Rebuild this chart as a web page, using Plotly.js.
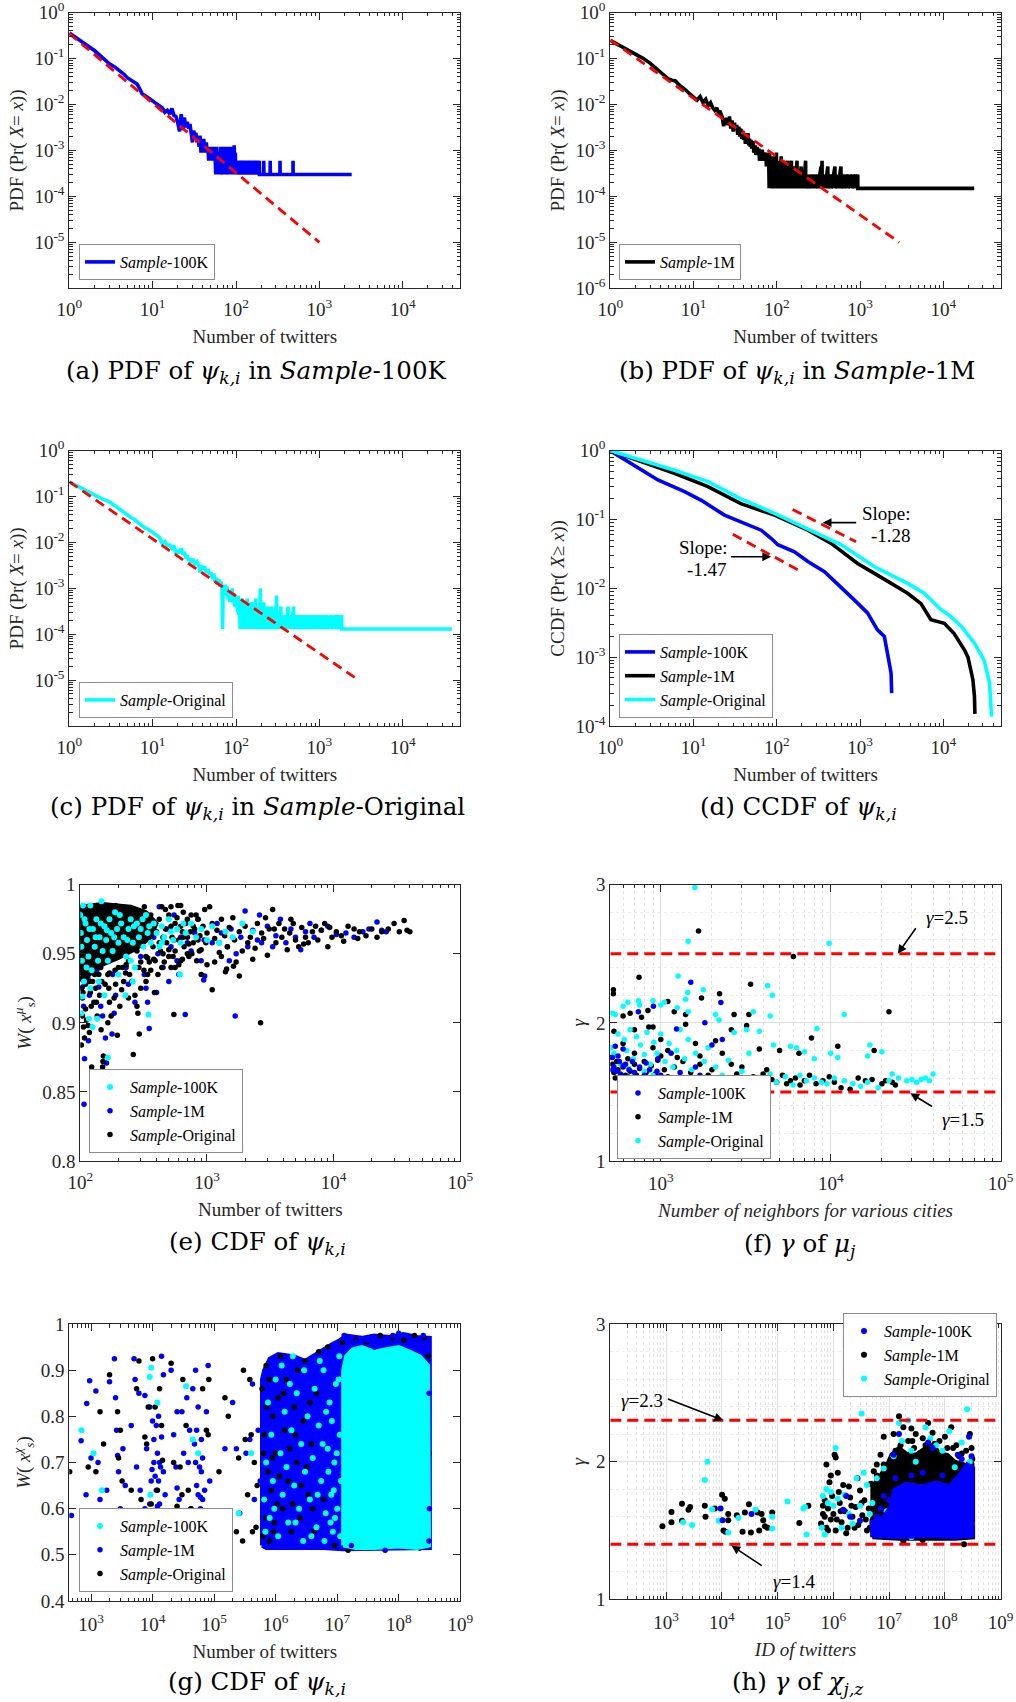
<!DOCTYPE html>
<html><head><meta charset="utf-8">
<script src="https://cdn.plot.ly/plotly-3.0.1.min.js"></script>
<style>html,body{margin:0;padding:0;background:#fff}#chart{width:1016px;height:1702px}</style>
</head><body><div id="chart"></div>
<script>
// ---------------- DATA ----------------
// (a) PDF, Sample-100K : [x, Pr(X=x)]
const a_pdf100k = [[1,0.36],[1.5,0.22],[2,0.15],[2.5,0.105],[3,0.078],[3.5,0.066],[4,0.055],[4.5,0.046],[5,0.038],[5.5,0.034],[6,0.031],[6.5,0.028],[7,0.022],[7.5,0.017],[8,0.016],[9,0.014],[10,0.012],[11,0.0105],[12,0.0095],[13,0.0085],[14,0.0068],[15,0.0075],[16,0.0062],[17,0.0082],[18,0.0058],[19,0.0055],[20,0.0040],[21,0.0026],[22,0.0062],[23,0.0028],[24,0.0052],[25,0.0032],[26,0.0042],[27,0.0030],[28,0.0038],[29,0.0020],[30,0.0015],[31,0.0027],[32,0.0021],[33,0.0024],[34,0.0015],[35,0.0021],[36,0.0012],[37,0.0021],[38,0.0009],[39,0.0015],[40,0.0012],[41,0.0018],[42,0.0009],[43,0.0012],[44,0.0015],[45,0.0009],[46,0.0012],[47,0.0006],[48,0.0012],[49,0.0009],[50,0.0006],[51,0.0012],[52,0.0009],[53,0.0006],[54,0.0012],[55,0.0006],[56,0.0009],[57,0.0003],[58,0.0012],[59,0.0006],[60,0.0003],[62,0.0009],[63,0.0003],[65,0.0012],[66,0.0003],[68,0.0006],[69,0.0012],[70,0.0003],[72,0.0009],[73,0.0003],[75,0.0012],[76,0.0003],[78,0.0006],[80,0.0012],[81,0.0003],[83,0.0009],[84,0.0003],[86,0.0012],[87,0.0006],[88,0.0003],[90,0.0012],[91,0.0003],[93,0.0006],[95,0.0013],[96,0.0003],[98,0.0009],[99,0.0003],[101,0.0006],[102,0.0003],[105,0.0006],[106,0.0003],[110,0.0006],[111,0.0003],[115,0.0006],[116,0.0003],[120,0.0006],[121,0.0003],[125,0.0006],[126,0.0003],[131,0.0006],[132,0.0003],[138,0.0006],[139,0.0003],[145,0.0006],[146,0.0003],[152,0.0006],[153,0.0003],[160,0.0006],[161,0.0003],[170,0.0006],[171,0.0003],[180,0.0006],[181,0.0003],[190,0.0006],[191,0.0003],[214,0.0003],[215,0.0006],[216,0.0003],[256,0.0003],[257,0.0006],[258,0.0003],[336,0.0003],[337,0.0006],[338,0.0003],[482,0.0003],[483,0.0006],[484,0.0003],[2440,0.0003]];
const a_fit = [[1,0.35],[1000,1e-5]];

// (b) PDF, Sample-1M
const b_pdf1m = [[1,0.25],[1.5,0.17],[2,0.13],[2.5,0.10],[3,0.08],[3.5,0.063],[4,0.05],[4.5,0.042],[5,0.036],[5.5,0.034],[6,0.033],[7,0.025],[8,0.021],[9,0.017],[10,0.014],[11,0.0125],[12,0.015],[13,0.011],[14,0.013],[15,0.0095],[16,0.011],[17,0.0085],[18,0.0075],[19,0.0085],[20,0.0065],[21,0.0068],[22,0.0055],[23,0.0034],[24,0.0050],[25,0.0045],[26,0.0036],[27,0.0055],[28,0.0030],[29,0.0045],[30,0.0026],[31,0.0040],[32,0.0028],[33,0.0036],[34,0.0022],[35,0.0033],[36,0.0020],[37,0.0030],[38,0.0018],[39,0.0027],[40,0.0017],[41,0.0024],[42,0.0014],[43,0.0021],[44,0.0015],[45,0.0024],[46,0.0013],[47,0.0018],[48,0.0012],[49,0.0017],[50,0.0011],[52,0.0016],[53,0.0009],[55,0.0013],[56,0.0008],[58,0.0012],[59,0.0009],[61,0.0011],[62,0.0006],[64,0.0009],[65,0.0006],[67,0.00105],[68,0.0006],[70,0.0009],[72,0.0006],[74,0.0009],[75,0.00045],[77,0.00075],[78,0.00045],[80,0.0006],[81,0.00015],[82,0.0009],[83,0.00015],[85,0.0006],[86,0.00015],[88,0.0006],[89,0.0003],[91,0.00075],[92,0.00015],[95,0.0006],[96,0.00015],[99,0.0009],[100,0.00015],[104,0.00045],[105,0.00015],[108,0.0006],[109,0.00015],[113,0.00075],[114,0.00015],[118,0.00045],[119,0.00015],[123,0.0006],[124,0.0003],[128,0.00045],[129,0.00015],[135,0.0006],[136,0.00015],[142,0.00045],[143,0.00015],[150,0.0006],[151,0.00015],[158,0.0003],[159,0.00015],[166,0.00045],[167,0.00015],[175,0.0006],[176,0.00015],[185,0.0003],[186,0.00015],[196,0.00045],[197,0.00015],[208,0.0003],[209,0.00015],[222,0.0006],[223,0.00015],[238,0.0003],[239,0.00015],[255,0.0003],[256,0.00015],[272,0.0003],[273,0.00015],[290,0.0003],[291,0.00015],[310,0.0003],[311,0.00015],[340,0.00045],[341,0.00015],[350,0.0006],[351,0.00015],[380,0.0003],[381,0.00015],[410,0.00045],[411,0.00015],[450,0.0003],[451,0.00015],[500,0.00045],[501,0.00015],[540,0.0003],[541,0.00015],[590,0.00045],[591,0.00015],[650,0.0003],[651,0.00015],[720,0.0003],[721,0.00015],[800,0.0003],[801,0.00015],[880,0.0003],[881,0.00015],[940,0.0003],[941,0.00015],[23500,0.00015]];
const b_fit = [[1,0.255],[2960,1e-5]];

// (c) PDF, Sample-Original
const c_pdfOrig = [[1,0.21],[1.5,0.14],[2,0.105],[2.5,0.088],[3,0.078],[3.5,0.063],[4,0.052],[4.5,0.044],[5,0.038],[5.5,0.035],[6,0.032],[7,0.025],[8,0.021],[9,0.019],[10,0.016],[11,0.0145],[12,0.0130],[13,0.0095],[14,0.0105],[15,0.0085],[16,0.0088],[17,0.0075],[18,0.0085],[19,0.0055],[20,0.0068],[21,0.0058],[22,0.0075],[23,0.0055],[24,0.0062],[25,0.0045],[26,0.0052],[27,0.0040],[28,0.0045],[29,0.0036],[30,0.0044],[32,0.0034],[34,0.0038],[36,0.0030],[37,0.0022],[38,0.0032],[40,0.0026],[42,0.0030],[44,0.0022],[46,0.0026],[48,0.0020],[50,0.0022],[52,0.0016],[54,0.0021],[56,0.0014],[58,0.0017],[60,0.0012],[62,0.0016],[64,0.0011],[66,0.0014],[68,0.0010],[69,0.00013],[70,0.0010],[72,0.0008],[74,0.0012],[76,0.0007],[78,0.0011],[80,0.0006],[82,0.0009],[84,0.0005],[86,0.0008],[88,0.0006],[90,0.0010],[92,0.0005],[94,0.0008],[96,0.0004],[98,0.0007],[100,0.0004],[102,0.0006],[104,0.0003],[106,0.0007],[108,0.00026],[110,0.0005],[112,0.00013],[114,0.0004],[116,0.00013],[118,0.0006],[120,0.00013],[123,0.0004],[124,0.00013],[127,0.0005],[128,0.00013],[131,0.0004],[132,0.00013],[136,0.0006],[137,0.00013],[141,0.0004],[142,0.00013],[146,0.0005],[147,0.00013],[152,0.0004],[153,0.00013],[158,0.0005],[159,0.00013],[165,0.0004],[166,0.00013],[172,0.0006],[173,0.00013],[180,0.0004],[181,0.00013],[190,0.00026],[191,0.00013],[196,0.0010],[197,0.00013],[205,0.0004],[206,0.00013],[215,0.0005],[216,0.00013],[226,0.00026],[227,0.00013],[238,0.0004],[239,0.00013],[250,0.00026],[251,0.00013],[264,0.0004],[265,0.00013],[280,0.00026],[281,0.00013],[296,0.0004],[297,0.00013],[306,0.0007],[307,0.00013],[325,0.00026],[326,0.00013],[345,0.0004],[346,0.00013],[370,0.00026],[371,0.00013],[395,0.00026],[396,0.00013],[420,0.0004],[421,0.00013],[455,0.00026],[456,0.00013],[490,0.0004],[491,0.00013],[530,0.00026],[531,0.00013],[580,0.00026],[581,0.00013],[630,0.00026],[631,0.00013],[690,0.00026],[691,0.00013],[760,0.00026],[761,0.00013],[840,0.00026],[841,0.00013],[930,0.00026],[931,0.00013],[1020,0.00026],[1021,0.00013],[1130,0.00026],[1131,0.00013],[1250,0.00026],[1251,0.00013],[1400,0.00026],[1401,0.00013],[1560,0.00026],[1561,0.00013],[1700,0.00026],[1701,0.00013],[1850,0.00026],[1851,0.00013],[38700,0.00013]];
const c_fit = [[1,0.21],[2950,1e-5]];

// (d) CCDF
const d_ccdf100k = [[1,1],[2.35,0.52],[3.73,0.375],[7.8,0.254],[12.4,0.19],[23.5,0.116],[37,0.093],[65,0.07],[86,0.053],[103,0.043],[163,0.034],[236,0.0245],[374,0.0175],[594,0.0105],[852,0.0068],[1230,0.0044],[1620,0.0025],[1960,0.002],[2150,0.00114],[2360,0.00059],[2400,0.0003]];
const d_ccdf1m = [[1,1],[2.35,0.69],[5.9,0.47],[14.9,0.30],[37,0.17],[94,0.116],[236,0.07],[450,0.045],[935,0.023],[1490,0.0165],[2360,0.0118],[3730,0.0085],[5400,0.006],[7100,0.0035],[10300,0.0031],[13500,0.0022],[18000,0.00127],[19800,0.001],[22700,0.00047],[23700,0.00027],[24000,0.00015]];
const d_ccdfOrig = [[1,1],[2.35,0.73],[5.9,0.52],[14.9,0.355],[37,0.2],[94,0.123],[236,0.074],[594,0.043],[935,0.03],[1490,0.0206],[2360,0.0156],[3730,0.0118],[5900,0.0085],[9400,0.0049],[12000,0.004],[16500,0.0028],[23700,0.0016],[31000,0.0009],[36000,0.00042],[37300,0.00024],[38000,0.000137]];
const d_fit128 = [[155,0.14],[895,0.0476]];
const d_fit147 = [[29.6,0.061],[205,0.017]];

// (e) W(x_s^mu) vs number of twitters
const e_orig = [[1050,0.984],[1100,0.972],[1150,0.961],[1200,0.967],[1250,0.958],[1300,0.975],[1380,0.963],[1450,0.955],[1500,0.969],[1600,0.976],[1650,0.960],[1700,0.944],[1800,0.966],[1900,0.952],[2000,0.970],[2100,0.958],[2200,0.962],[2400,0.954],[2500,0.972],[2700,0.965],[2800,0.961],[3000,0.949],[3100,0.968],[3300,0.982],[3500,0.958],[3700,0.972],[3900,0.962],[4100,0.968],[4300,0.953],[4500,0.965],[4800,0.972],[5000,0.960],[5300,0.955],[5600,0.969],[6000,0.962],[6300,0.958],[6800,0.966],[7200,0.970],[7500,0.960],[8000,0.967],[8500,0.972],[9000,0.955],[9300,0.969],[9700,0.962],[10500,0.966],[11500,0.963],[13000,0.970],[14500,0.968],[16000,0.966],[18000,0.963],[20000,0.968],[22000,0.962],[24000,0.966],[27000,0.968],[30000,0.972],[33000,0.966],[36000,0.974],[40000,0.966],[38000,0.967],[1430,0.939],[1620,0.941],[1800,0.934],[2650,0.900],[1100,0.924],[2300,0.946],[3400,0.968],[4600,0.975],[5800,0.957],[12000,0.959],[15500,0.961],[2900,0.976],[1300,0.948],[1400,0.937],
[100,0.983],[100,0.975],[101,0.962],[101,0.955],[102,0.948],[102,0.940],[103,0.932],[102,0.925],[104,0.918],[102,0.884],[105,0.968],[106,0.945],[107,0.958],[108,0.936],[112,0.978],[114,0.965],[115,0.950],[116,0.942],[118,0.930],[120,0.922],[122,0.912],[123,0.868],[125,0.984],[126,0.958],[128,0.946],[130,0.935],[132,0.925],[134,0.915],[136,0.905],[138,0.972],[140,0.962],[142,0.952],[145,0.940],[148,0.930],[150,0.868],[151,0.872],[152,0.876],[146,0.895],[118,0.893],[115,0.898],[135,0.985],[155,0.978],[158,0.965],[160,0.955],[163,0.945],[165,0.935],[168,0.925],[170,0.915],[175,0.983],[178,0.972],[180,0.958],[185,0.948],[188,0.938],[190,0.928],[196,0.891],[200,0.975],[205,0.962],[210,0.952],[215,0.940],[220,0.930],[225,0.968],[230,0.983],[235,0.955],[240,0.945],[245,0.935],[250,0.960],[175,0.905],[185,0.918],[205,0.912],[262,0.877],[165,0.900],[260,0.978],[270,0.965],[280,0.952],[285,0.907],[290,0.940],[292,0.892],[300,0.972],[310,0.960],[320,0.984],[330,0.948],[340,0.935],[350,0.968],[360,0.978],[375,0.955],[385,0.922],[390,0.945],[400,0.966],[420,0.975],[430,0.952],[440,0.940],[450,0.962],[470,0.982],[480,0.958],[500,0.948],[300,0.925],[330,0.930],[360,0.938],[255,0.930],[270,0.920],[280,0.912],[520,0.970],[548,0.906],[550,0.960],[560,0.952],[580,0.976],[600,0.942],[620,0.985],[640,0.966],[660,0.955],[680,0.972],[700,0.962],[720,0.948],[750,0.978],[780,0.958],[800,0.968],[830,0.945],[850,0.975],[880,0.963],[900,0.953],[930,0.970],[960,0.982],[980,0.958],[1000,0.965],[560,0.940],[620,0.945],[700,0.950],
[104,0.905],[106,0.897],[110,0.910],[112,0.902],[108,0.889],[128,0.915],[142,0.920],[157,0.928],[212,0.924],[228,0.936],[240,0.918],[318,0.938],[350,0.944],[410,0.935],[460,0.944],[520,0.940],[640,0.946],[760,0.950],[1150,0.944],[1250,0.951],[900,0.935],[1000,0.942],
[105,0.922],[110,0.928],[125,0.930],[140,0.935],[170,0.936],[200,0.940],[230,0.942],[300,0.944],[340,0.947],[380,0.946],[450,0.950],[500,0.953],[540,0.948],[600,0.960],[620,0.970],[650,0.962],[700,0.975],[720,0.957],[850,0.960],[780,0.970],[590,0.985],[650,0.980],[740,0.966],[820,0.978],[870,0.952],
[470,0.968],[500,0.978],[530,0.962],[560,0.972],[420,0.958],[380,0.966],[520,0.984],[440,0.984]];
const e_origDense = [[100,0.930],[100,0.984],[150,0.986],[250,0.984],[330,0.980],[400,0.972],[360,0.962],[280,0.954],[200,0.947],[140,0.941],[115,0.934]];
const e_1m = [[107,0.841],[108,0.874],[116,0.887],[158,0.889],[161,0.871],[178,0.892],[185,0.907],[350,0.896],[674,0.906],[1670,0.905],[942,0.931],[960,0.934],[400,0.922],[100,0.978],[101,0.965],[102,0.950],[103,0.938],[104,0.926],[106,0.912],[110,0.958],[112,0.945],[115,0.932],[118,0.920],[120,0.975],[125,0.965],[130,0.950],[135,0.938],[140,0.926],[145,0.912],[150,0.970],[160,0.958],[170,0.945],[180,0.935],[190,0.985],[200,0.980],[210,0.963],[220,0.950],[230,0.940],[240,0.928],[260,0.972],[280,0.958],[300,0.948],[320,0.935],[340,0.915],[360,0.975],[380,0.962],[410,0.950],[420,0.984],[450,0.940],[480,0.968],[520,0.955],[550,0.978],[580,0.945],[620,0.962],[660,0.972],[700,0.958],[750,0.952],[800,0.965],[850,0.975],[900,0.945],[950,0.960],[330,0.925],[270,0.915],[190,0.920],[150,0.905],[500,0.930],[600,0.935],[1100,0.958],[1200,0.972],[1300,0.965],[1450,0.955],[1550,0.968],[1700,0.950],[1850,0.962],[2000,0.981],[2100,0.955],[2300,0.967],[2500,0.960],[2700,0.958],[3000,0.970],[3300,0.955],[3500,0.963],[3800,0.975],[4200,0.958],[4600,0.968],[5000,0.962],[5500,0.953],[6000,0.966],[6500,0.972],[7000,0.962],[8000,0.967],[9000,0.970],[10500,0.964],[12500,0.965],[14500,0.962],[17000,0.966],[19000,0.968],[22000,0.973],[24000,0.967],[26000,0.966],[2600,0.978],[1500,0.945]];
const e_100k = [[165,0.875],[125,0.897],[136,0.903],[117,0.903],[102,0.907],[345,0.906],[227,0.920],[612,0.935],[104,0.919],[100,0.978],[101,0.965],[102,0.955],[103,0.945],[105,0.985],[107,0.930],[110,0.972],[113,0.960],[116,0.948],[120,0.985],[123,0.938],[126,0.968],[130,0.955],[134,0.975],[138,0.945],[142,0.962],[147,0.988],[150,0.952],[155,0.970],[160,0.960],[165,0.945],[170,0.975],[175,0.965],[180,0.952],[188,0.980],[195,0.968],[200,0.958],[210,0.972],[220,0.962],[230,0.948],[240,0.968],[250,0.975],[260,0.958],[270,0.940],[280,0.972],[290,0.962],[300,0.968],[315,0.955],[330,0.978],[340,0.965],[360,0.958],[380,0.972],[400,0.965],[420,0.955],[440,0.970],[460,0.962],[500,0.975],[540,0.960],[580,0.968],[620,0.958],[680,0.965],[750,0.972],[820,0.962],[900,0.968],[1000,0.960],[1100,0.970],[1250,0.958],[1400,0.966],[1600,0.962],[1900,0.972],[2300,0.966],[120,0.925],[140,0.930],[200,0.935],[250,0.945],[112,0.940],[155,0.920],[260,0.930],
[108,0.975],[118,0.968],[132,0.962],[145,0.972],[162,0.967],[185,0.962],[205,0.978],[235,0.960],[265,0.970],[310,0.975],[350,0.970],[440,0.958],[520,0.966],[650,0.972]];

// (f) gamma vs number of neighbors
const f_100k = [[1502,2.294],[2257,2.147],[905,2.12],[738,2.08],[1817,2.0],[1237,1.955],[2000,1.84],[2300,1.88],[540,1.83],[600,1.81],[560,1.76],[520,1.75],[530,1.68],[550,1.65],[580,1.63],[620,1.70],[650,1.66],[700,1.64],[750,1.68],[800,1.62],[860,1.66],[900,1.60],[950,1.65],[1000,1.62],[1100,1.60],[1200,1.58],[1300,1.64],[1700,1.62],[2000,1.59],[2400,1.58],[640,1.61],[600,1.69],[680,1.72],[760,1.60],[1150,1.78],[1600,1.68],[520,1.66],[570,1.72],[820,1.71],[960,1.74]];
const f_1m = [[1667,2.665],[6030,2.48],[745,2.33],[3375,2.28],[526,2.24],[526,2.21],[22000,2.08],[2217,2.21],[1736,2.18],[1100,2.155],[840,2.09],[660,2.07],[770,2.04],[600,2.05],[1200,2.08],[1400,2.06],[2700,2.06],[3300,2.06],[3200,1.98],[850,1.97],[1400,1.99],[700,1.95],[530,1.94],[900,1.97],[2600,1.95],[2100,1.87],[1000,1.88],[1600,1.85],[7700,1.89],[11000,1.83],[18000,1.80],[6500,1.78],[5000,1.80],[3800,1.81],[510,1.75],[520,1.70],[530,1.64],[540,1.60],[550,1.72],[560,1.66],[580,1.58],[600,1.68],[620,1.62],[640,1.74],[660,1.65],[680,1.58],[700,1.70],[720,1.62],[750,1.67],[780,1.57],[800,1.72],[820,1.64],[850,1.60],[880,1.69],[900,1.56],[930,1.63],[960,1.73],[1000,1.58],[1050,1.66],[1100,1.61],[1150,1.55],[1200,1.68],[1300,1.60],[1350,1.72],[1450,1.57],[1500,1.64],[1600,1.56],[1700,1.70],[1800,1.54],[1900,1.62],[2000,1.66],[2200,1.57],[2400,1.60],[2600,1.55],[2800,1.63],[3000,1.58],[3200,1.54],[3500,1.61],[3800,1.57],[4000,1.63],[4200,1.55],[4500,1.59],[4800,1.57],[5200,1.62],[5500,1.56],[5800,1.58],[6200,1.60],[6600,1.55],[7000,1.58],[7500,1.62],[8200,1.56],[9000,1.58],[9800,1.61],[10500,1.57],[11500,1.53],[13000,1.52],[14500,1.60],[16000,1.58],[17500,1.59],[20000,1.56],[21000,1.58],[23000,1.57],[24000,1.55],[1250,1.75],[1100,1.80],[1700,1.76],[2300,1.78],[2600,1.70],[700,1.78],[900,1.82],[600,1.85],[1000,1.76],[3000,1.68],[4200,1.66]];
const f_orig = [[1587,2.98],[1449,2.59],[9780,2.576],[1265,2.34],[4250,2.27],[4530,2.20],[1777,2.24],[1440,2.22],[1400,2.17],[1050,2.15],[1000,2.13],[900,2.16],[740,2.16],[640,2.15],[600,2.12],[520,2.07],[540,2.06],[750,2.13],[1250,2.11],[1450,2.08],[2100,2.06],[2200,2.02],[3500,2.08],[4400,2.05],[12000,2.06],[3200,1.95],[8300,1.96],[2700,1.93],[3800,1.94],[4600,1.84],[5800,1.83],[6300,1.82],[17000,1.84],[20000,1.79],[16500,1.76],[8000,1.74],[10000,1.78],[11000,1.75],[7000,1.79],[510,1.82],[530,1.78],[560,1.92],[580,1.70],[610,1.88],[630,1.80],[660,1.95],[690,1.74],[720,1.90],[760,1.84],[800,1.77],[830,1.93],[870,1.70],[910,1.86],[950,1.78],[1000,1.92],[1060,1.72],[1120,1.85],[1180,1.68],[1240,1.80],[1300,1.95],[1380,1.74],[1450,1.88],[1520,1.66],[1600,1.78],[1700,1.60],[1800,1.72],[1900,1.82],[2000,1.57],[2100,1.68],[2300,1.62],[2500,1.73],[2700,1.59],[3000,1.65],[3300,1.78],[3600,1.60],[4000,1.58],[4400,1.63],[4800,1.57],[5400,1.61],[6000,1.55],[6600,1.62],[7200,1.58],[8000,1.60],[8800,1.57],[9500,1.56],[10500,1.60],[12000,1.58],[13500,1.56],[15000,1.54],[16500,1.57],[19000,1.53],[22000,1.58],[23000,1.63],[25000,1.60],[28000,1.58],[30000,1.59],[32000,1.57],[34000,1.59],[36000,1.60],[38000,1.58],[40000,1.63],[600,1.60],[700,1.58],[900,1.62],[1100,1.57],[1300,1.55],[800,1.65],[650,1.67],[1500,1.60],[1400,1.52],[3500,1.52]];
const f_gammaLevels = [2.5, 1.5];

// (g) W(x_s^chi) vs number of twitters
const g_1m = [[480,0.585],[690,0.747],[830,0.63],[850,0.828],[950,0.877],[1000,0.71],[1200,0.855],[1300,0.70],[1400,0.62],[1600,0.585],[1800,0.64],[2000,0.875],[2000,0.59],[2400,0.925],[2500,0.84],[2600,0.77],[2700,0.715],[2800,0.68],[3000,0.60],[3300,0.73],[3600,0.65],[4000,0.59],[4500,0.78],[5000,0.925],[5200,0.88],[5500,0.69],[6000,0.85],[6300,0.64],[7000,0.56],[7500,0.60],[8000,0.73],[9000,0.82],[9500,0.66],[10000,0.79],[10500,0.70],[11000,0.59],[11500,0.78],[12000,0.72],[12500,0.66],[13000,0.61],[13500,0.57],[14000,0.93],[14000,0.755],[15000,0.89],[15000,0.68],[16000,0.63],[17000,0.58],[20000,0.90],[22000,0.76],[24000,0.69],[25000,0.81],[27000,0.62],[30000,0.81],[32000,0.72],[34000,0.57],[36000,0.84],[38000,0.70],[40000,0.77],[42000,0.60],[45000,0.86],[48000,0.74],[50000,0.90],[52000,0.65],[55000,0.82],[58000,0.69],[60000,0.60],[62000,0.75],[65000,0.71],[68000,0.59],[70000,0.64],[75000,0.81],[80000,0.91],[85000,0.66],[150000,0.73],[180000,0.57],[200000,0.83],[230000,0.73],[260000,0.59],[330000,0.72],[380000,0.75],[420000,0.87],[450000,0.62],[520000,0.77],[560000,0.66],[11000,0.67],[12000,0.605],[13000,0.70],[3500,0.555],[7500,0.845],[60000,0.625],[25000,0.645],[9000,0.61],
[10500,0.75],[11500,0.64],[12500,0.80],[13500,0.69],[12800,0.58],[50000,0.70],[55000,0.63],[62000,0.68],[58000,0.58],[65000,0.62],[52000,0.77],[9800,0.685]];
const g_1mDense = [[6e5,0.52],[6e5,0.88],[6.5e5,0.90],[8e5,0.925],[1.1e6,0.935],[2e6,0.93],[3e6,0.92],[4.5e6,0.935],[6e6,0.945],[8e6,0.955],[1.1e7,0.965],[1.4e7,0.975],[2.5e7,0.97],[4e7,0.975],[7e7,0.972],[1.2e8,0.978],[2e8,0.972],[3.2e8,0.97],[3.2e8,0.515],[1.2e7,0.512],[6e6,0.515],[1.5e6,0.515],[7e5,0.515]];
const g_1mEdge = [[1.3e7,0.975],[2e7,0.96],[3e7,0.965],[5e7,0.96],[8e7,0.975],[1e8,0.98],[1.5e8,0.965],[2.5e8,0.975],[3e8,0.95],[3.1e8,0.85],[3.15e8,0.6],[3.1e8,0.53],[6e7,0.51],[1.7e7,0.52],[2.2e8,0.955],[4e7,0.95]];
const g_orig = [[450,0.68],[900,0.69],[1100,0.57],[1200,0.68],[1400,0.81],[1600,0.74],[2000,0.89],[2300,0.58],[2700,0.81],[2800,0.71],[3000,0.77],[3200,0.66],[3500,0.58],[4500,0.64],[5500,0.86],[6000,0.92],[6500,0.62],[7500,0.755],[8000,0.74],[8500,0.82],[9500,0.61],[10000,0.925],[11000,0.82],[12000,0.64],[12500,0.57],[13000,0.86],[14000,0.78],[14500,0.705],[16000,0.575],[20000,0.915],[22000,0.70],[25000,0.605],[28000,0.69],[31000,0.88],[35000,0.78],[38000,0.64],[42000,0.60],[48000,0.575],[55000,0.575],[65000,0.86],[75000,0.77],[80000,0.76],[82000,0.88],[92000,0.59],[120000,0.68],[150000,0.84],[170000,0.80],[230000,0.55],[250000,0.71],[290000,0.53],[300000,0.90],[320000,0.75],[350000,0.63],[380000,0.88],[400000,0.76],[420000,0.55],[450000,0.70],[480000,0.56],[500000,0.65],[12000,0.56],[30000,0.63],[60000,0.59],
[6e5,0.86],[6.2e5,0.54],[6.5e5,0.76],[7e5,0.91],[7.5e5,0.68],[8e5,0.53],[8.5e5,0.64],[9e5,0.80],[9.5e5,0.57],[1e6,0.72],[1.1e6,0.84],[1.2e6,0.93],[1.3e6,0.60],[1.4e6,0.77],[1.5e6,0.88],[1.6e6,0.66],[1.8e6,0.55],[2e6,0.82],[2.2e6,0.70],[2.5e6,0.58],[2.8e6,0.79],[3e6,0.92],[3.4e6,0.63],[3.8e6,0.74],[4.2e6,0.55],[4.6e6,0.85],[5e6,0.94],[6e6,0.62],[7e6,0.95],[9e6,0.52],[1.2e7,0.96],[2e7,0.965],[3e7,0.96],[5e7,0.975],[8e7,0.97],[1.2e8,0.965],[1.8e8,0.975],[2.6e8,0.97],[3e8,0.93],[3.1e8,0.72],[2.2e8,0.515],[1.5e7,0.51],[7e5,0.58],[1.7e6,0.73],[2.3e6,0.90],[3.2e6,0.69],[1.05e6,0.61],[8.8e5,0.71],
[6.3e5,0.72],[6.8e5,0.62],[7.2e5,0.82],[7.8e5,0.88],[9.2e5,0.55],[1.15e6,0.67],[1.35e6,0.85],[1.9e6,0.61],[2.1e6,0.76],[2.6e6,0.65],[3.6e6,0.83],[4e6,0.60]];
const g_100k = [[700,0.77],[1100,0.72],[1500,0.64],[9500,0.905],[9000,0.885],[12000,0.83],[35000,0.865],[45000,0.75],[55000,0.72],[80000,0.585],[9200,0.63],[6000,0.59],[48000,0.58],[250000,0.59],[400000,0.72],
[6.5e5,0.62],[7e5,0.70],[7.5e5,0.83],[8e5,0.58],[8.5e5,0.76],[9e5,0.66],[1e6,0.88],[1.1e6,0.54],[1.2e6,0.72],[1.3e6,0.63],[1.4e6,0.81],[1.5e6,0.69],[1.6e6,0.57],[1.8e6,0.77],[1.9e6,0.93],[2e6,0.65],[2.2e6,0.85],[2.4e6,0.60],[2.6e6,0.74],[2.8e6,0.53],[3e6,0.68],[3.3e6,0.80],[3.6e6,0.62],[4e6,0.71],[4.3e6,0.86],[4.6e6,0.56],[5e6,0.78],[5.5e6,0.66],[6e6,0.90],[6.5e6,0.59],[7e6,0.73],[7.5e6,0.83],[8e6,0.63],[8.5e6,0.55],[9e6,0.70],[9.5e6,0.87],[1e7,0.60],[1.1e7,0.76],[1.15e7,0.66],[5.2e6,0.92],[6.2e6,0.53],[7.2e6,0.68],[8.2e6,0.79],[9.2e6,0.58],[1.05e7,0.88],[6.8e5,0.55],[9.5e5,0.60],[1.25e6,0.91],[2.1e6,0.57],[3.8e6,0.54],[2.9e6,0.90],[1.7e6,0.87],[4.8e6,0.63],[5.8e6,0.74],[6.6e6,0.81],[7.8e6,0.57],[8.8e6,0.64],[9.8e6,0.72],[1.12e7,0.54],[1.08e7,0.93]];
const g_100kDense = [[1.25e7,0.52],[1.25e7,0.90],[1.4e7,0.93],[1.8e7,0.945],[2.5e7,0.95],[4e7,0.94],[6e7,0.945],[1e8,0.95],[1.5e8,0.94],[2.2e8,0.93],[3e8,0.91],[3.1e8,0.52],[2e8,0.515],[1e8,0.518],[4e7,0.515],[2e7,0.515]];

// (h) gamma vs ID of twitters
const h_1m = [[860,1.53],[1250,1.634],[1250,1.56],[1930,1.695],[1930,1.57],[2520,1.65],[2700,1.67],[4950,1.68],[5100,1.60],[7500,1.66],[10100,1.76],[11300,1.73],[10700,1.50],[11600,1.49],[13000,1.62],[13000,1.575],[18600,1.61],[23500,1.49],[25900,1.63],[30600,1.69],[33200,1.485],[43700,1.63],[46800,1.50],[51500,1.62],[55200,1.575],[59000,1.53],[66000,1.52],[80000,1.63],[245000,1.555],[355000,1.68],
[6e5,1.55],[6.5e5,1.62],[7e5,1.72],[7.5e5,1.98],[7.5e5,1.52],[8e5,1.66],[8.5e5,1.85],[9e5,1.58],[9.5e5,1.75],[1e6,1.62],[1.05e6,2.05],[1.1e6,2.03],[1.1e6,1.5],[1.2e6,1.92],[1.3e6,1.70],[1.4e6,1.56],[1.5e6,1.83],[1.6e6,1.64],[1.8e6,1.52],[2e6,1.74],[2.2e6,1.60],[2.5e6,1.67],[2.8e6,1.54],[3e6,1.79],[3.3e6,1.61],[3.6e6,1.72],[4e6,1.50],[4.3e6,1.66],[4.7e6,1.84],[5e6,1.57],[5.3e6,1.93],[6e6,1.98],[7e6,2.05],[8e6,2.18],[1.5e7,2.33],[1.8e7,2.25],[2.5e7,2.24],[3e7,2.20],[4e7,2.17],[6e7,2.21],[8e7,2.15],[1e8,2.18],[1.3e8,2.25],[1.6e8,2.12],[2e8,2.06],[2.8e8,2.2],[3e8,2.1],[2.2e8,1.40],[1.8e7,1.42],[4e7,1.43],[7e5,1.60],[9e5,1.90],[1.25e6,1.78],[1.9e6,1.82],[2.7e6,1.88],[3.8e6,1.58],[1.7e6,1.48],[1.2e7,2.2],[2.2e7,2.15],[5e7,2.28],[1.1e8,2.1],
[1.3e7,2.08],[1.6e7,2.12],[2e7,2.05],[2.8e7,2.1],[3.5e7,2.06],[4.5e7,2.12],[7e7,2.08],[9e7,2.05],[1.4e8,2.1],[1.8e8,2.04],[2.4e8,2.08],[3.1e8,2.02],[1.1e7,2.0],[6e6,1.9],[8e6,1.98],[2.6e7,2.15],[6.5e7,2.13],[1.2e8,2.02],[3e8,1.98],[6.5e5,1.68],[8e5,1.50],[1.15e6,1.58],[1.35e6,1.64],[2.1e6,1.68],[2.4e6,1.52],[3.2e6,1.70],[4.5e6,1.52],[5.8e6,1.72],
[5.5e6,1.62],[6e6,1.78],[6.5e6,1.55],[7e6,1.70],[7.5e6,1.88],[5.2e6,1.50],[6.8e6,1.62],[7.8e6,1.52],[9e6,1.96],[1e7,1.9]];
const h_1mDense = [[5e6,1.45],[5e6,1.82],[7e6,1.90],[9e6,1.97],[1.1e7,2.05],[1.5e7,2.10],[2e7,2.06],[3e7,2.05],[4.5e7,2.10],[6e7,2.12],[8e7,2.06],[1.1e8,2.05],[1.5e8,2.0],[2.2e8,1.98],[3.2e8,1.95],[3.2e8,1.45],[1.5e8,1.44],[5e7,1.44],[1.5e7,1.44]];
const h_orig = [[4950,1.867],[5530,2.0],[2930,1.54],[2020,1.56],[6700,1.654],[13000,1.485],[19800,1.59],[80000,1.60],[80000,1.515],[150000,1.71],[290000,1.66],[310000,1.67],[330000,1.47],[8800,1.57],[40000,1.65],
[6.2e5,1.52],[6.5e5,1.75],[7e5,1.47],[7.5e5,1.80],[8e5,1.70],[9e5,1.78],[1e6,1.68],[1.1e6,2.1],[1.2e6,1.73],[1.4e6,1.52],[1.6e6,1.76],[1.9e6,1.62],[2.2e6,1.55],[2.6e6,1.88],[3e6,1.68],[3.5e6,1.92],[4e6,1.83],[4.5e6,1.62],[5e6,1.7],[6e6,1.88],[7e6,1.53],[8e6,1.95],[9e6,1.64],[1.2e7,2.04],[1.5e7,2.28],[1.7e7,2.15],[2.2e7,2.3],[2.5e7,2.08],[3e7,2.0],[3.5e7,1.48],[4.5e7,2.25],[5.5e7,2.17],[7e7,2.12],[9e7,2.08],[1.2e8,2.22],[1.5e8,1.96],[2e8,2.14],[2.5e8,2.38],[2.8e8,2.0],[3e8,1.55],[3.2e6,2.35],[1.6e8,1.5],[6e7,1.47],[2.5e7,1.45]];
const h_100k = [[9500,1.66],[10300,1.575],[34000,1.62],[1.5e7,2.2],[1.2e7,2.05],[5e7,2.14],[6e7,2.1],[2.7e8,2.18],[2.9e8,1.94],[1.7e8,2.05],[8e6,1.75],[6e6,1.6],[5e6,1.55],[2e6,1.6],[1.5e6,1.65],[3e6,1.57],[7e6,1.66],[9e6,1.52],[1.7e6,1.75],[1.3e7,1.88],[2.5e7,1.9],[4e7,1.92],[9e7,1.9],[2e8,2.02],[3e8,2.04],[1e7,1.72]];
const h_100kDense = [[5e6,1.46],[5e6,1.56],[8e6,1.60],[1.1e7,1.68],[1.2e7,1.79],[2e7,1.84],[4e7,1.82],[7e7,1.85],[1.2e8,1.82],[1.8e8,1.90],[2.5e8,1.98],[3.15e8,1.96],[3.15e8,1.46],[1.5e8,1.45],[5e7,1.46],[1.5e7,1.45]];
const h_gammaLevels = [2.3, 1.4];

// tick labels / names
const pow10Labels = n => '10<sup>' + n + '</sup>';
const seriesNames = {k100:'<i>Sample</i>-100K', m1:'<i>Sample</i>-1M', orig:'<i>Sample</i>-Original'};

// ---------------- LAYOUT HELPERS ----------------
const W = 1016, H = 1702;
const FONT = 'Liberation Serif';
const CAPFONT = 'DejaVu Serif';
const INK = '#262626';
const BLUE = '#0000ff', CYAN = '#00ffff', BLACK = '#000000', RED = '#ff0000';
const fx = p => p / W, fy = p => 1 - p / H;
const X = d => d.map(p => p[0]), Y = d => d.map(p => p[1]);
const TICKSIZE = 19;

function decades(lo, hi) { const v = []; for (let d = lo; d <= hi; d++) v.push(d); return v; }
function logMinor(lo, hi) {
  const v = [];
  for (let d = Math.floor(lo); d < Math.ceil(hi); d++)
    for (let m = 2; m <= 9; m++) { const t = m * Math.pow(10, d); const l = Math.log10(t); if (l >= lo && l <= hi) v.push(t); }
  return v;
}
const common = {
  showline: true, linecolor: INK, linewidth: 1, mirror: 'allticks', ticks: 'inside', ticklen: 7, tickcolor: INK,
  showgrid: false, zeroline: false, tickfont: { family: FONT, size: TICKSIZE, color: INK }, ticklabeloverflow: 'allow'
};
function logAxis(domain, range, labelExps, extra) {
  return Object.assign({
    type: 'log', domain: domain, range: range, tickmode: 'array',
    tickvals: labelExps.map(e => Math.pow(10, e)), ticktext: labelExps.map(pow10Labels),
    minor: { tickmode: 'array', tickvals: logMinor(range[0], range[1]), ticks: 'inside', ticklen: 3.5, tickcolor: INK, showgrid: false }
  }, common, extra || {});
}
function linAxis(domain, range, vals, labels, extra) {
  return Object.assign({ type: 'linear', domain: domain, range: range, tickmode: 'array', tickvals: vals, ticktext: labels }, common, extra || {});
}
const ttl = (t, so) => ({ text: t, font: { family: FONT, size: 19, color: INK }, standoff: so });

// panel boxes in pixels [left, right, top, bottom]
const boxes = {
  a: [69.3, 460.3, 12.7, 288.3], b: [610.3, 1000.7, 12.7, 288.3],
  c: [69.3, 460.3, 450.7, 726], d: [610.3, 1000.7, 450.7, 726],
  e: [80.3, 460.3, 884.7, 1161], f: [610.3, 1000.7, 884.7, 1161],
  g: [69.3, 460.3, 1324, 1601], h: [610.3, 1000.7, 1324, 1599.3]
};
const dx = k => [fx(boxes[k][0]), fx(boxes[k][1])];
const dy = k => [fy(boxes[k][3]), fy(boxes[k][2])];

const pdfTitle = 'PDF (Pr( <i>X</i>= <i>x</i>))';
const nTw = 'Number of twitters';
const XSO = 10, YSO = 5;
const xExtra = (anchor, t, so) => ({ anchor: anchor, title: ttl(t, XSO), ticklabelstandoff: so === undefined ? 4 : so });

const layout = {
  width: W, height: H, margin: { l: 0, r: 0, t: 0, b: 0 },
  paper_bgcolor: '#fff', plot_bgcolor: '#fff',
  font: { family: FONT, size: 18, color: INK },
  showlegend: true,
  xaxis: logAxis(dx('a'), [0, 4.69], decades(0, 4), xExtra('y', nTw)),
  yaxis: logAxis(dy('a'), [-6, 0], decades(-5, 0), { anchor: 'x', title: ttl(pdfTitle, YSO) }),
  xaxis2: logAxis(dx('b'), [0, 4.69], decades(0, 4), xExtra('y2', nTw)),
  yaxis2: logAxis(dy('b'), [-6, 0], decades(-6, 0), { anchor: 'x2', title: ttl(pdfTitle, YSO) }),
  xaxis3: logAxis(dx('c'), [0, 4.69], decades(0, 4), xExtra('y3', nTw)),
  yaxis3: logAxis(dy('c'), [-6, 0], decades(-5, 0), { anchor: 'x3', title: ttl(pdfTitle, YSO) }),
  xaxis4: logAxis(dx('d'), [0, 4.69], decades(0, 4), xExtra('y4', nTw)),
  yaxis4: logAxis(dy('d'), [-4, 0], decades(-4, 0), { anchor: 'x4', title: ttl('CCDF (Pr( <i>X</i>≥ <i>x</i>))', YSO) }),
  xaxis5: logAxis(dx('e'), [2, 5], decades(2, 5), xExtra('y5', nTw)),
  yaxis5: linAxis(dy('e'), [0.8, 1], [0.8, 0.85, 0.9, 0.95, 1], ['0.8', '0.85', '0.9', '0.95', '1'], { anchor: 'x5', title: ttl('<i>W</i>( <i>x</i><sup><i>μ</i></sup><sub><i>s</i></sub>)', YSO) }),
  xaxis6: logAxis(dx('f'), [2.703, 5], decades(3, 5), Object.assign(xExtra('y6', '<i>Number of neighbors for various cities</i>', 5), { showgrid: true, gridcolor: '#e0e0e0' })),
  yaxis6: linAxis(dy('f'), [1, 3], [1, 2, 3], ['1', '2', '3'], { anchor: 'x6', title: ttl('<i>γ</i>', YSO), showgrid: true, gridcolor: '#e0e0e0' }),
  xaxis7: logAxis(dx('g'), [2.647, 9], decades(3, 9), xExtra('y7', nTw, 6)),
  yaxis7: linAxis(dy('g'), [0.4, 1], [0.4, 0.5, 0.6, 0.7, 0.8, 0.9, 1], ['0.4', '0.5', '0.6', '0.7', '0.8', '0.9', '1'], { anchor: 'x7', title: ttl('<i>W</i>( <i>x</i><sup><i>χ</i></sup><sub><i>s</i></sub>)', YSO) }),
  xaxis8: logAxis(dx('h'), [2, 9], decades(3, 9), Object.assign(xExtra('y8', '<i>ID of twitters</i>', 6), { showgrid: true, gridcolor: '#e0e0e0' })),
  yaxis8: linAxis(dy('h'), [1, 3], [1, 2, 3], ['1', '2', '3'], { anchor: 'x8', title: ttl('<i>γ</i>', YSO), showgrid: true, gridcolor: '#e0e0e0' }),
  annotations: []
};
// dotted minor grid for (f) and (h)
['xaxis6', 'xaxis8'].forEach(k => { layout[k].minor.showgrid = true; layout[k].minor.griddash = 'dot'; layout[k].minor.gridcolor = '#e4e4e4'; });
['yaxis6', 'yaxis8'].forEach(k => { layout[k].minor = { tickmode: 'array', tickvals: [1.2, 1.4, 1.6, 1.8, 2.2, 2.4, 2.6, 2.8], ticks: '', showgrid: true, griddash: 'dot', gridcolor: '#ececec' }; });

// legends: anchored at the bottom-left corner of the reference box (pixels)
function legendAt(left, bottom) {
  return { x: fx(left), y: fy(bottom), xanchor: 'left', yanchor: 'bottom', bgcolor: '#fff', bordercolor: '#8c8c8c', borderwidth: 1,
    font: { family: FONT, size: 16, color: '#000' }, itemwidth: 30, tracegroupgap: 0, itemsizing: 'trace', traceorder: 'normal' };
}
layout.legend = legendAt(79, 280);
layout.legend2 = legendAt(619, 280);
layout.legend3 = legendAt(79, 718);
layout.legend4 = legendAt(619, 718);
layout.legend5 = legendAt(89, 1153);
layout.legend6 = legendAt(617, 1159);
layout.legend7 = legendAt(79, 1592);
layout.legend8 = legendAt(843, 1397);

// captions
const captions = [
  ['(a) PDF of <i>ψ</i><sub><i>k,i</i></sub> in <i>Sample</i>-100K', 256, 372],
  ['(b) PDF of <i>ψ</i><sub><i>k,i</i></sub> in <i>Sample</i>-1M', 797, 372],
  ['(c) PDF of <i>ψ</i><sub><i>k,i</i></sub> in <i>Sample</i>-Original', 257, 808],
  ['(d) CCDF of <i>ψ</i><sub><i>k,i</i></sub>', 798, 808],
  ['(e) CDF of <i>ψ</i><sub><i>k,i</i></sub>', 257, 1243],
  ['(f) <i>γ</i> of <i>μ</i><sub><i>j</i></sub>', 800, 1245],
  ['(g) CDF of <i>ψ</i><sub><i>k,i</i></sub>', 257, 1683],
  ['(h) <i>γ</i> of <i>χ</i><sub><i>j,z</i></sub>', 798, 1683]
];
captions.forEach(c => layout.annotations.push({ xref: 'paper', yref: 'paper', x: fx(c[1]), y: fy(c[2]), text: c[0], showarrow: false,
  xanchor: 'center', yanchor: 'middle', font: { family: CAPFONT, size: 24.5, color: '#000' } }));

// text labels
function label(t, x, y, size) {
  layout.annotations.push({ xref: 'paper', yref: 'paper', x: fx(x), y: fy(y), text: t, showarrow: false, xanchor: 'center', yanchor: 'middle', align: 'center',
    font: { family: FONT, size: size || 19, color: '#000' } });
}
label('Slope:', 886, 513); label('-1.28', 891, 535);
label('Slope:', 703, 547); label('-1.47', 707, 569);
label('<i>γ</i>=2.5', 947, 917); label('<i>γ</i>=1.5', 963, 1119);
label('<i>γ</i>=2.3', 642, 1400); label('<i>γ</i>=1.4', 794, 1581);

// arrows in data coordinates (head x,y ; tail x,y)
function arrow(xa, ya, hx, hy, tx, ty, logy) {
  const f = v => logy ? Math.log10(v) : v;
  layout.annotations.push({ xref: xa, yref: ya, axref: xa, ayref: ya, x: Math.log10(hx), y: f(hy), ax: Math.log10(tx), ay: f(ty),
    text: '', showarrow: true, arrowhead: 2, arrowsize: 1.1, arrowwidth: 1.6, arrowcolor: '#000' });
}
arrow('x4', 'y4', 356, 0.09, 937, 0.09, true);
arrow('x4', 'y4', 85.5, 0.0288, 27, 0.0288, true);
arrow('x6', 'y6', 24800, 2.5, 32100, 2.696);
arrow('x6', 'y6', 29400, 1.49, 40300, 1.388);
arrow('x8', 'y8', 10560, 2.3, 1014, 2.46);
arrow('x8', 'y8', 14900, 1.39, 55200, 1.237);

// ---------------- TRACES ----------------
const traces = [];
function line(data, xa, ya, color, width, name, leg, dash, show) {
  traces.push({ type: 'scatter', mode: 'lines', x: X(data), y: Y(data), xaxis: xa, yaxis: ya, name: name || '',
    line: { color: color, width: width, dash: dash || 'solid' }, legend: leg, showlegend: !!show, hoverinfo: 'skip' });
}
function dots(data, xa, ya, color, size, name, leg, show, rank) {
  traces.push({ type: 'scatter', mode: 'markers', x: X(data), y: Y(data), xaxis: xa, yaxis: ya, name: name || '',
    marker: { color: color, size: size, line: { width: 0 } }, legend: leg, showlegend: !!show, legendrank: rank || 1000, hoverinfo: 'skip' });
}
function blob(data, xa, ya, color, leg) {
  const d = data.concat([data[0]]);
  traces.push({ type: 'scatter', mode: 'lines', x: X(d), y: Y(d), xaxis: xa, yaxis: ya, fill: 'toself', fillcolor: color,
    line: { color: color, width: 4, shape: 'linear' }, legend: leg, showlegend: false, hoverinfo: 'skip' });
}
const DASH = '10px,6px';

// (a)
line(a_pdf100k, 'x', 'y', BLUE, 3.6, seriesNames.k100, 'legend', 'solid', true);
line(a_fit, 'x', 'y', RED, 2.8, '', 'legend', DASH, false);
// (b)
line(b_pdf1m, 'x2', 'y2', BLACK, 3.6, seriesNames.m1, 'legend2', 'solid', true);
line(b_fit, 'x2', 'y2', RED, 2.8, '', 'legend2', DASH, false);
// (c)
line(c_pdfOrig, 'x3', 'y3', CYAN, 3.6, seriesNames.orig, 'legend3', 'solid', true);
line(c_fit, 'x3', 'y3', RED, 2.8, '', 'legend3', DASH, false);
// (d)
line(d_ccdf100k, 'x4', 'y4', BLUE, 3.6, seriesNames.k100, 'legend4', 'solid', true);
line(d_ccdf1m, 'x4', 'y4', BLACK, 3.6, seriesNames.m1, 'legend4', 'solid', true);
line(d_ccdfOrig, 'x4', 'y4', CYAN, 3.6, seriesNames.orig, 'legend4', 'solid', true);
line(d_fit128, 'x4', 'y4', RED, 2.8, '', 'legend4', DASH, false);
line(d_fit147, 'x4', 'y4', RED, 2.8, '', 'legend4', DASH, false);
// (e)
dots(e_1m, 'x5', 'y5', BLUE, 5.5, seriesNames.m1, 'legend5', true, 2);
blob(e_origDense, 'x5', 'y5', BLACK, 'legend5');
dots(e_orig, 'x5', 'y5', BLACK, 5.5, seriesNames.orig, 'legend5', true, 3);
dots(e_100k, 'x5', 'y5', CYAN, 6, seriesNames.k100, 'legend5', true, 1);
// (f)
dots(f_1m, 'x6', 'y6', BLACK, 5.5, seriesNames.m1, 'legend6', true, 2);
dots(f_orig, 'x6', 'y6', CYAN, 5.5, seriesNames.orig, 'legend6', true, 3);
dots(f_100k, 'x6', 'y6', BLUE, 5.5, seriesNames.k100, 'legend6', true, 1);
f_gammaLevels.forEach(g => line([[Math.pow(10, 2.703), g], [1e5, g]], 'x6', 'y6', RED, 3, '', 'legend6', '11px,6px', false));
// (g)
blob(g_1mDense, 'x7', 'y7', BLUE, 'legend7');
dots(g_1m, 'x7', 'y7', BLUE, 5.5, seriesNames.m1, 'legend7', true, 2);
dots(g_orig, 'x7', 'y7', BLACK, 5.5, seriesNames.orig, 'legend7', true, 3);
blob(g_100kDense, 'x7', 'y7', CYAN, 'legend7');
dots(g_100k, 'x7', 'y7', CYAN, 6, seriesNames.k100, 'legend7', true, 1);
dots(g_1mEdge, 'x7', 'y7', BLUE, 5.5, '', 'legend7', false);
// (h)
blob(h_1mDense, 'x8', 'y8', BLACK, 'legend8');
dots(h_1m, 'x8', 'y8', BLACK, 6, seriesNames.m1, 'legend8', true, 2);
dots(h_orig, 'x8', 'y8', CYAN, 6, seriesNames.orig, 'legend8', true, 3);
blob(h_100kDense, 'x8', 'y8', BLUE, 'legend8');
dots(h_100k, 'x8', 'y8', BLUE, 6, seriesNames.k100, 'legend8', true, 1);
h_gammaLevels.forEach(g => line([[100, g], [1e9, g]], 'x8', 'y8', RED, 3, '', 'legend8', '11px,6px', false));

Plotly.newPlot('chart', traces, layout, { staticPlot: true, displayModeBar: false });
</script></body></html>
